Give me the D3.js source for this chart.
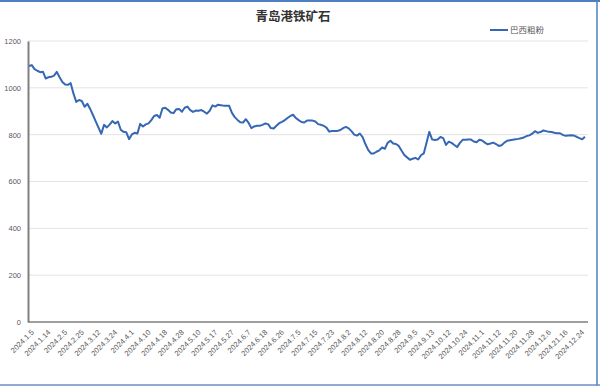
<!DOCTYPE html>
<html><head><meta charset="utf-8">
<script src="https://cdn.jsdelivr.net/npm/d3@7"></script>
<style>
html,body{margin:0;padding:0;background:#fff;}
svg{display:block;}
</style></head>
<body>
<script>
const title = "青岛港铁矿石";
const seriesName = "巴西粗粉";
const tickLabels = ["2024.1.5","2024.1.14","2024.2.5","2024.2.25","2024.3.12","2024.3.24","2024.4.1","2024.4.10","2024.4.18","2024.4.28","2024.5.10","2024.5.17","2024.5.27","2024.6.7","2024.6.18","2024.6.26","2024.7.5","2024.7.15","2024.7.23","2024.8.2","2024.8.12","2024.8.20","2024.8.28","2024.9.5","2024.9.13","2024.10.12","2024.10.24","2024.11.1","2024.11.12","2024.11.20","2024.11.28","2024.12.6","2024.21.16","2024.12.24"];
const labelEvery = 6;
const values = [
1093,1097,1080,1073,1067,1069,1040,1045,1047,1052,
1068,1045,1025,1014,1013,1020,975,940,948,944,
919,932,910,884,857,830,804,842,831,843,
858,848,856,821,812,810,781,801,808,805,
846,835,844,848,862,880,884,872,912,915,
906,895,892,909,910,898,915,920,905,897,
903,902,905,898,890,902,925,920,928,926,
924,924,923,893,875,863,853,852,866,850,
828,835,838,838,842,848,845,828,826,838,
849,855,862,871,880,885,871,862,854,852,
860,860,860,856,845,842,838,830,813,816,
816,816,820,828,833,827,815,800,796,805,
790,760,735,720,720,727,733,745,740,765,
774,762,760,752,732,713,703,693,697,701,
694,712,720,765,812,780,777,779,790,785,
756,770,765,756,747,765,778,778,779,779,
771,768,778,775,766,759,762,766,760,752,
755,766,774,776,778,780,782,785,788,794,
797,804,815,808,811,818,815,812,811,808,
806,806,799,795,796,797,796,791,785,780,
791];
const yTicks = [0,200,400,600,800,1000,1200];

const W = 600, H = 386;
const svg = d3.select("body").append("svg").attr("width", W).attr("height", H);
svg.append("rect").attr("width", W).attr("height", H).attr("fill", "#fff");

const x = d3.scalePoint().domain(d3.range(values.length)).range([29, 585]);
const y = d3.scaleLinear().domain([0, 1200]).range([322, 41]);

// gridlines
svg.append("g").selectAll("line").data(yTicks.filter(d => d > 0)).join("line")
  .attr("x1", 28).attr("x2", 588)
  .attr("y1", d => y(d)).attr("y2", d => y(d))
  .attr("stroke", "#e3e3e3").attr("stroke-width", 1);

// y axis
const yAxis = d3.axisLeft(y).tickValues(yTicks).tickSize(0).tickPadding(7).tickFormat(d3.format("d"));
const gy = svg.append("g").attr("transform", "translate(28,0)").call(yAxis);
gy.select(".domain").attr("stroke", "#808080").attr("stroke-width", 2);
gy.selectAll("text").attr("fill", "#595959").style("font-family", "'Liberation Sans', Arial, sans-serif").style("font-size", "7.5px");

// x axis
const tickIdx = tickLabels.map((_, i) => i * labelEvery);
const xAxis = d3.axisBottom(x).tickValues(tickIdx).tickSize(0).tickFormat((d, i) => tickLabels[i]);
const gx = svg.append("g").attr("transform", "translate(0,322)").call(xAxis);
gx.select(".domain").attr("d", "M28,0H588").attr("stroke", "#7f7f7f").attr("stroke-width", 1.5);
gx.selectAll("text")
  .attr("fill", "#595959")
  .style("font-family", "'Liberation Sans', Arial, sans-serif").style("font-size", "7.5px")
  .attr("text-anchor", "end")
  .attr("dy", "0.35em").attr("y", 0)
  .attr("transform", "translate(3,9) rotate(-45)");

// line
svg.append("path").datum(values)
  .attr("fill", "none").attr("stroke", "#3567b4").attr("stroke-width", 2)
  .attr("stroke-linejoin", "round")
  .attr("d", d3.line().x((d, i) => x(i)).y(d => y(d)));

// title
svg.append("text").attr("x", 293).attr("y", 21).attr("text-anchor", "middle")
  .style("font-family", "'Noto Sans CJK SC', sans-serif").style("font-weight", "bold")
  .style("font-size", "12.5px").attr("fill", "#333").text(title);

// legend
svg.append("line").attr("x1", 490).attr("x2", 508).attr("y1", 30).attr("y2", 30)
  .attr("stroke", "#3567b4").attr("stroke-width", 2);
svg.append("text").attr("x", 510).attr("y", 33)
  .style("font-family", "'Noto Sans CJK SC', sans-serif").style("font-size", "8.5px")
  .attr("fill", "#595959").text(seriesName);

// frame
svg.append("line").attr("x1", 0).attr("x2", W).attr("y1", 1).attr("y2", 1).attr("stroke", "#4f7fc0").attr("stroke-width", 2);
svg.append("line").attr("x1", 597).attr("x2", 597).attr("y1", 0).attr("y2", 386).attr("stroke", "#4f7fc0").attr("stroke-width", 1.5);
svg.append("line").attr("x1", 0).attr("x2", W).attr("y1", 385).attr("y2", 385).attr("stroke", "#6b90c4").attr("stroke-width", 1.5);
</script>
</body></html>
